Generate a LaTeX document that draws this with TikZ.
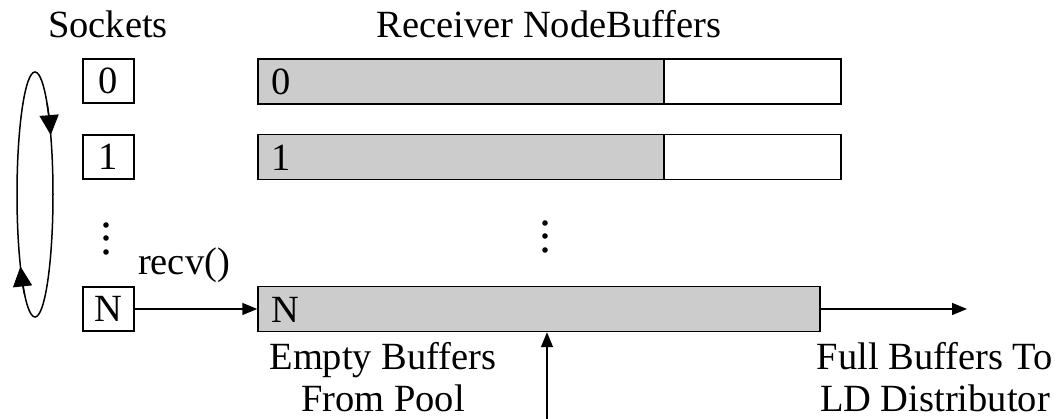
\documentclass[tikz,border=0pt]{standalone}
\usepackage{fontspec}
\setmainfont{Liberation Serif}
\usetikzlibrary{arrows.meta}
\definecolor{bufgray}{HTML}{CCCCCC}
\begin{document}
\begin{tikzpicture}[x=1pt,y=1pt,
  every node/.style={font=\fontsize{38.5pt}{42pt}\selectfont},
  sock/.style={draw, line width=1.5pt, minimum width=51pt, minimum height=44pt, inner sep=0pt},
  fullpart/.style={draw, line width=1.5pt, fill=bufgray, minimum height=45pt, inner sep=0pt},
  emptypart/.style={draw, line width=1.5pt, fill=white, minimum height=45pt, inner sep=0pt},
  lbl/.style={anchor=base, inner sep=0pt},
  bl/.style={anchor=base west, inner sep=0pt},
  conn/.style={line width=1.5pt, -{Triangle[length=15pt,width=12pt]}},
  ring/.style={line width=1.5pt},
  ringarrow/.style={line width=1.5pt, -{Triangle[length=20pt,width=19pt]}},
]
\useasboundingbox (0,0) rectangle (1058,419);

% headings
\node[lbl] (hs) at (108,381) {Sockets};
\node[lbl] (hb) at (549,381) {Receiver NodeBuffers};

% sockets
\node[sock] (s0) at (108.5,338) {0};
\node[sock] (s1) at (108.5,262) {1};
\node[sock] (sN) at (108.5,110) {N};

% buffers
\node[fullpart, minimum width=406pt] (b0) at (461,337.5) {};
\node[emptypart, minimum width=177pt] (e0) at (752.5,337.5) {};
\node[fullpart, minimum width=406pt] (b1) at (461,262) {};
\node[emptypart, minimum width=177pt] (e1) at (752.5,262) {};
\node[fullpart, minimum width=562pt] (bN) at (539,110) {};

\node[bl] (t0) at (271,324) {0};
\node[bl] (t1) at (271,248.5) {1};
\node[bl] (tN) at (271,96.5) {N};

% dots
\fill (106,194) circle (2.8);
\fill (106,181) circle (2.8);
\fill (106,167) circle (2.8);
\fill (545,196) circle (2.8);
\fill (545,183) circle (2.8);
\fill (545,169) circle (2.8);

% round-robin ellipse
\draw[ring] (35,224.5) ellipse [x radius=18, y radius=122.5];
\draw[ringarrow] (35,224.5) ++(48:18 and 122.5) arc[start angle=48, end angle=29, x radius=18, y radius=122.5];
\draw[ringarrow] (35,224.5) ++(235:18 and 122.5) arc[start angle=235, end angle=216, x radius=18, y radius=122.5];

% labels
\node[lbl] (recv) at (184,144) {recv()};
\node[lbl] (eb1) at (383,49) {Empty Buffers};
\node[lbl] (eb2) at (383,7) {From Pool};
\node[lbl] (fb1) at (935,49) {Full Buffers To};
\node[lbl] (fb2) at (935,7) {LD Distributor};

% connectors
\coordinate (outR) at (967,110);
\coordinate (inB) at (547,0);
\draw[conn] (sN.east) -- (bN.west);
\draw[conn] (bN.east) -- (outR);
\draw[conn] (inB) -- (inB |- bN.south);
\end{tikzpicture}
\end{document}
